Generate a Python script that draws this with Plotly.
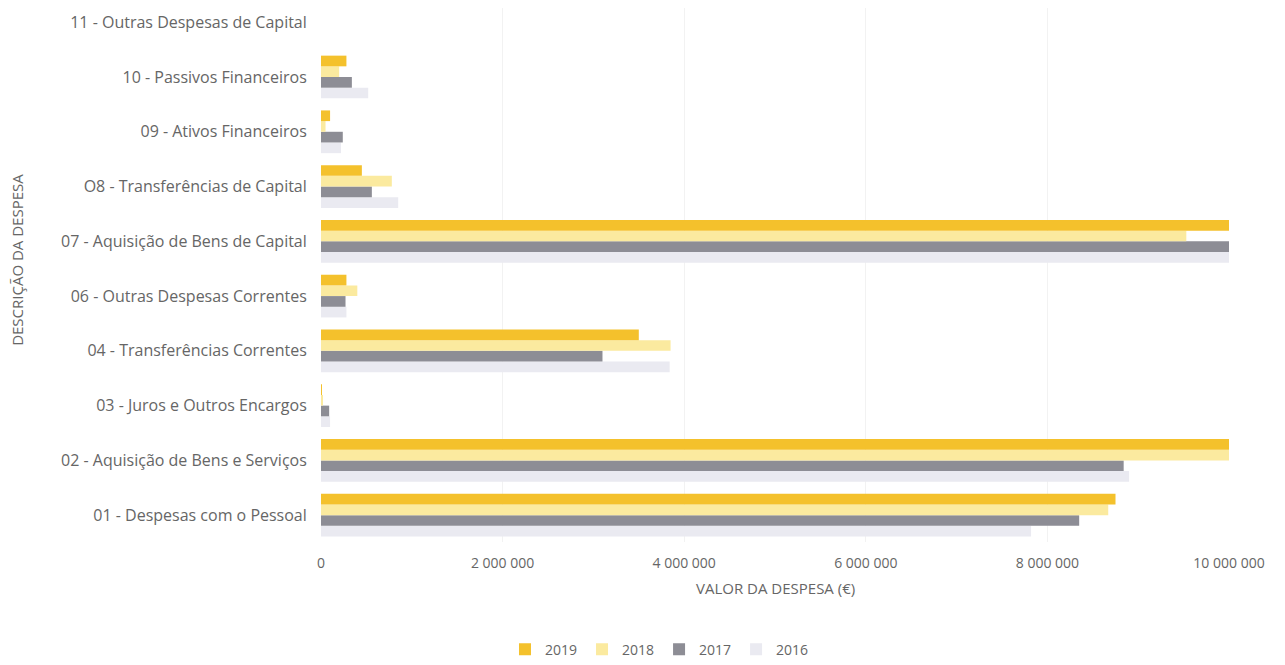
import plotly.graph_objects as go

categories = [
    "01 - Despesas com o Pessoal",
    "02 - Aquisição de Bens e Serviços",
    "03 - Juros e Outros Encargos",
    "04 - Transferências Correntes",
    "06 - Outras Despesas Correntes",
    "07 - Aquisição de Bens de Capital",
    "O8 - Transferências de Capital",
    "09 - Ativos Financeiros",
    "10 - Passivos Financeiros",
    "11 - Outras Despesas de Capital",
]

v2019 = [8750000, 10200000, 10000, 3500000, 280000, 10300000, 450000, 100000, 280000, 0]
v2018 = [8670000, 10150000, 20000, 3850000, 400000, 9530000, 780000, 50000, 200000, 0]
v2017 = [8350000, 8840000, 90000, 3100000, 270000, 10250000, 560000, 240000, 340000, 0]
v2016 = [7820000, 8900000, 100000, 3840000, 280000, 10200000, 850000, 220000, 520000, 0]

series = [
    ("2016", v2016, "#EAEAF1"),
    ("2017", v2017, "#8D8D95"),
    ("2018", v2018, "#FBEA9F"),
    ("2019", v2019, "#F4C12C"),
]

x_ticks = [0, 2000000, 4000000, 6000000, 8000000, 10000000]

fig = go.Figure()
for name, vals, color in series:
    fig.add_trace(go.Bar(
        y=categories, x=vals, name=name, orientation="h",
        marker=dict(color=color, line=dict(width=0)),
    ))

font_color = "#666666"
fam = "Open Sans, Lato, sans-serif"
fig.update_layout(
    width=1285, height=665,
    barmode="group", bargap=0.22, bargroupgap=0.0,
    plot_bgcolor="white", paper_bgcolor="white",
    separators=", ",
    font=dict(family=fam, size=15, color=font_color),
    margin=dict(l=313, r=64, t=0, b=131),
    xaxis=dict(
        range=[0, 10000000], tickvals=x_ticks, tickformat=",d",
        showgrid=True, gridcolor="#F2F2F2", gridwidth=1,
        zeroline=False, showline=False,
        ticks="outside", ticklen=8, tickcolor="rgba(0,0,0,0)",
        tickfont=dict(family=fam, size=14, color=font_color),
    ),
    yaxis=dict(
        type="category", categoryorder="array", categoryarray=categories,
        range=[-0.49, 9.26], showgrid=False, zeroline=False, showline=False,
        ticks="outside", ticklen=10, tickcolor="rgba(0,0,0,0)",
        tickfont=dict(family=fam, size=16, color=font_color),
    ),
    legend=dict(
        orientation="h", traceorder="reversed",
        xref="container", yref="container", x=0.507, y=0.035,
        xanchor="center", yanchor="middle",
        font=dict(family=fam, size=14, color=font_color),
        itemwidth=30, tracegroupgap=0,
    ),
    annotations=[
        dict(text="VALOR DA DESPESA (€)", xref="paper", yref="paper",
             x=0.5, y=-0.086, xanchor="center", yanchor="middle",
             showarrow=False, font=dict(family=fam, size=15, color=font_color)),
        dict(text="DESCRIÇÃO DA DESPESA", xref="paper", yref="paper",
             x=-0.335, y=0.528, xanchor="center", yanchor="middle", textangle=-90,
             showarrow=False, font=dict(family=fam, size=15, color=font_color)),
    ],
)

fig.write_html("out.html")
